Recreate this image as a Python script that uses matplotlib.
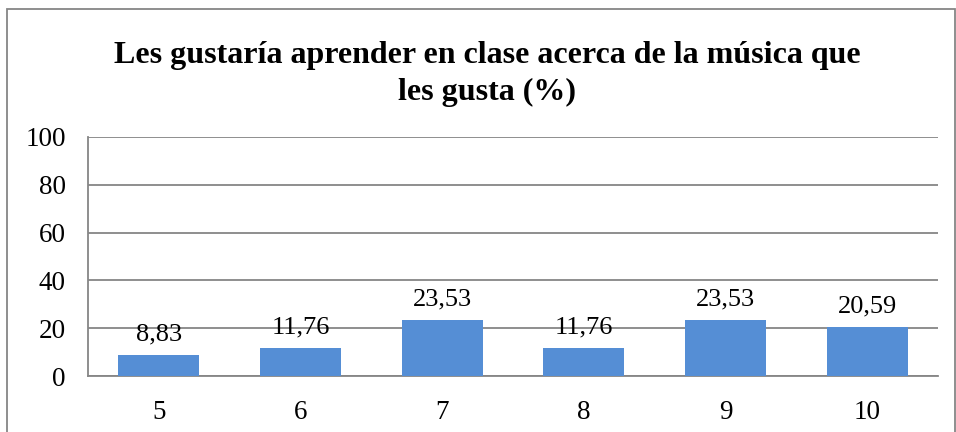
import matplotlib
matplotlib.use('Agg')
import matplotlib.pyplot as plt
from matplotlib.patches import Rectangle

# Datos del gráfico
categorias = ['5', '6', '7', '8', '9', '10']
porcentajes = [8.83, 11.76, 23.53, 11.76, 23.53, 20.59]
ticks_y = [0, 20, 40, 60, 80, 100]
titulo = 'Les gustaría aprender en clase acerca de la música que\nles gusta (%)'

plt.rcParams['font.family'] = ['Liberation Serif', 'DejaVu Serif']

W, H = 956, 432
fig = plt.figure(figsize=(W / 100, H / 100), dpi=100)
ax = fig.add_axes([88 / W, 1 - 376 / H, (938 - 88) / W, (376 - 137) / H])

gris = '#868686'
x = range(len(categorias))
barras = ax.bar(x, porcentajes, width=0.57, color='#558ED5', zorder=3)

for xi, v in zip(x, porcentajes):
    etiqueta = f'{v:.2f}'.replace('.', ',')
    ax.annotate(etiqueta, (xi, v), xytext=(0, 7), textcoords='offset points',
                ha='center', va='bottom', fontsize=19, zorder=4)

ax.set_xlim(-0.5, len(categorias) - 0.5)
ax.set_ylim(0, 100)
ax.set_yticks(ticks_y)
ax.set_xticks(list(x))
ax.set_xticklabels(categorias)
ax.tick_params(axis='both', length=0, labelsize=19.5)
ax.tick_params(axis='y', pad=16)
ax.tick_params(axis='x', pad=17)
ax.yaxis.grid(True, color=gris, linewidth=1.3, zorder=0)

for s in ['top', 'right']:
    ax.spines[s].set_visible(False)
for s in ['left', 'bottom']:
    ax.spines[s].set_color(gris)
    ax.spines[s].set_linewidth(1.3)

fig.text(487 / W, 1 - 74 / H, titulo, ha='center', va='center',
         fontsize=23, fontweight='bold', linespacing=1.4)

# Marco exterior
fig.patches.append(Rectangle((7 / W, -0.05), (955 - 7) / W, 1.05 - 9 / H,
                             transform=fig.transFigure, fill=False,
                             edgecolor=gris, linewidth=1.3))

fig.savefig('out.png', dpi=100)
